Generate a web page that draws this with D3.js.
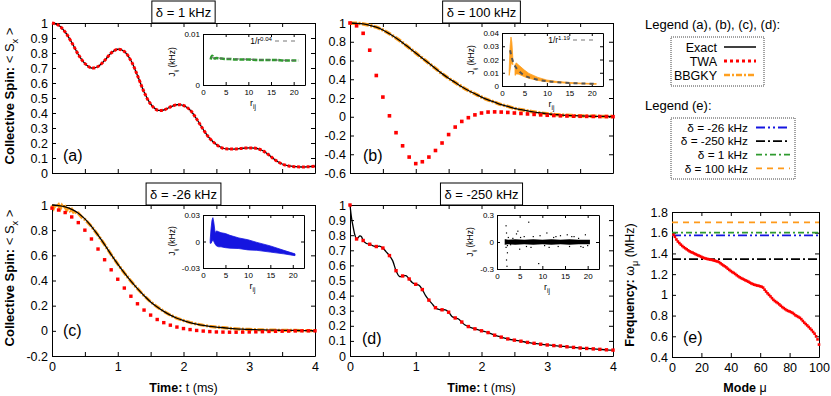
<!DOCTYPE html>
<html>
<head>
<meta charset="utf-8">
<script src="https://d3js.org/d3.v7.min.js"></script>
<style>
body { margin: 0; background: #fff; }
svg { display: block; background: #fff; }
</style>
</head>
<body>
<svg width="831" height="396"></svg>
<script>
// ---------------- data ----------------
var tGrid = [0,0.1,0.2,0.3,0.4,0.5,0.6,0.7,0.8,0.9,1.0,1.1,1.2,1.3,1.4,1.5,1.6,1.7,1.8,1.9,2.0,
             2.1,2.2,2.3,2.4,2.5,2.6,2.7,2.8,2.9,3.0,3.1,3.2,3.3,3.4,3.5,3.6,3.7,3.8,3.9,4.0];

// (a) delta = 1 kHz
var exactA = [1.0,0.985,0.94,0.87,0.79,0.73,0.70,0.71,0.75,0.80,0.825,0.81,0.75,0.65,0.54,0.46,0.42,0.42,0.44,0.455,0.45,
              0.42,0.36,0.29,0.23,0.19,0.165,0.16,0.16,0.165,0.167,0.165,0.15,0.12,0.085,0.06,0.047,0.042,0.04,0.042,0.045];

// (b) delta = 100 kHz
var exactB = [1.0,0.997,0.99,0.975,0.955,0.925,0.885,0.84,0.79,0.735,0.68,0.625,0.57,0.515,0.46,0.41,0.365,0.32,0.28,0.245,0.21,
              0.18,0.155,0.13,0.11,0.09,0.075,0.062,0.05,0.04,0.032,0.025,0.02,0.015,0.012,0.009,0.007,0.005,0.004,0.003,0.002];
var twaB   = [1.0,0.97,0.89,0.71,0.44,0.21,0.01,-0.17,-0.31,-0.43,-0.50,-0.48,-0.43,-0.36,-0.28,-0.19,-0.11,-0.05,-0.01,0.02,0.04,
              0.05,0.052,0.05,0.046,0.04,0.035,0.03,0.025,0.02,0.016,0.013,0.01,0.008,0.006,0.005,0.004,0.003,0.002,0.002,0.001];

// (c) delta = -26 kHz
var exactC = [1.0,0.995,0.985,0.965,0.935,0.89,0.83,0.76,0.685,0.605,0.53,0.46,0.395,0.335,0.28,0.23,0.19,0.155,0.125,0.10,0.082,
              0.066,0.054,0.044,0.036,0.03,0.025,0.02,0.016,0.013,0.011,0.009,0.007,0.006,0.005,0.004,0.003,0.003,0.002,0.002,0.002];
var twaC   = [0.975,0.96,0.94,0.905,0.86,0.80,0.73,0.65,0.565,0.485,0.41,0.34,0.275,0.215,0.165,0.125,0.09,0.065,0.045,0.03,0.018,
              0.01,0.003,-0.002,-0.006,-0.009,-0.01,-0.011,-0.011,-0.01,-0.009,-0.008,-0.007,-0.005,-0.004,-0.003,-0.002,-0.001,0,0,0];
var tBBGKYc = [0,0.025,0.05,0.075,0.1,0.125,0.15,0.175,0.2,0.225,0.25,0.275,0.3,0.325,0.35,0.375,0.4,0.45,0.5,
               0.6,0.7,0.8,0.9,1.0,1.1,1.2,1.3,1.4,1.5,1.6,1.7,1.8,1.9,2.0,2.1,2.2,2.3,2.4,2.5,
               2.6,2.7,2.8,2.9,3.0,3.1,3.2,3.3,3.4,3.5,3.6,3.7,3.8,3.9,4.0];
var bbgkyC = [1.0,0.975,1.005,0.985,1.0,0.97,0.995,0.975,0.985,0.96,0.98,0.955,0.965,0.945,0.955,0.93,0.935,0.905,0.885,
              0.83,0.76,0.685,0.605,0.53,0.46,0.395,0.335,0.28,0.23,0.19,0.155,0.125,0.10,0.082,0.066,0.054,0.044,0.036,0.03,
              0.025,0.02,0.016,0.013,0.011,0.009,0.007,0.006,0.005,0.004,0.003,0.003,0.002,0.002,0.002];

// (d) delta = -250 kHz
var tD = [0,0.025,0.05,0.075,0.1,0.125,0.15,0.175,0.2,0.25,0.3,0.35,0.4,0.45,0.5,0.55,0.6,0.65,0.7,0.75,0.8,0.85,0.9,0.95,
          1.0,1.05,1.1,1.15,1.2,1.25,1.3,1.35,1.4,1.45,1.5,1.55,1.6,1.65,1.7,1.75,1.8,1.9,2.0,2.1,2.2,2.3,2.4,2.5,
          2.6,2.7,2.8,2.9,3.0,3.1,3.2,3.3,3.4,3.5,3.6,3.7,3.8,3.9,4.0];
var exactD = [1.0,0.91,0.85,0.80,0.775,0.785,0.795,0.79,0.765,0.745,0.74,0.73,0.725,0.728,0.715,0.69,0.665,0.63,0.565,0.527,
              0.53,0.532,0.51,0.485,0.475,0.468,0.44,0.40,0.37,0.345,0.32,0.308,0.306,0.305,0.29,0.262,0.252,0.245,0.225,0.205,
              0.195,0.18,0.167,0.155,0.138,0.125,0.113,0.105,0.098,0.09,0.084,0.078,0.073,0.069,0.066,0.061,0.057,0.053,0.05,
              0.047,0.044,0.041,0.039];

// insets: J_ij versus r_ij
var rInA = [1.7,1.9,2.1,2.3,2.6,3,3.5,4,5,6,7,8,10,12,14,16,18,20,21];
var jInA = [0.0050,0.0056,0.0057,0.0054,0.0052,0.0053,0.0052,0.0052,0.0051,0.0051,0.0050,0.0050,0.0050,0.0049,0.0049,0.0049,0.0048,0.0048,0.0048];
var rFitA = [1.8,3,5,8,12,16,21];
var jFitA = [0.0054,0.0053,0.0052,0.0051,0.0050,0.0049,0.0048];

var rInB  = [1.6,1.8,2.0,2.2,2.4,2.6,2.9,3.2,3.6,4,5,6,8,10,12,15,18,21];
var hiInB = [0.012,0.030,0.037,0.033,0.022,null,0.016,0.0175,0.016,0.015,0.012,0.0095,0.0065,0.0045,0.0035,0.0027,0.0021,0.0018];
var loInB = [0.008,0.012,0.016,0.018,0.016,null,0.008,0.009,0.009,0.0085,0.007,0.0058,0.0042,0.0032,0.0026,0.002,0.0016,0.0013];
var rFitB = [1.8,2,2.5,3,4,5,6,8,10,12,15,18,21];
var jFitB = [0.027,0.024,0.018,0.0145,0.0105,0.008,0.0065,0.0047,0.0036,0.003,0.0023,0.0019,0.0016];

var rInC  = [1.6,1.8,2.0,2.2,2.4,2.7,3.0,3.5,4,5,6,8,10,12,15,18,20.5];
var hiInC = [0.002,0.015,0.024,0.027,0.022,0.010,0.012,0.011,0.010,0.009,0.007,0.004,0.002,-0.001,-0.005,-0.010,-0.014];
var loInC = [-0.002,-0.002,0.0,0.002,0.0,-0.003,-0.005,-0.006,-0.006,-0.007,-0.0075,-0.008,-0.0095,-0.010,-0.012,-0.014,-0.016];

var rInD  = [1.7,2.5,4,6,8,10,12,14,16,18,20.5];
var hiInD = [0.03,0.025,0.03,0.025,0.03,0.025,0.03,0.025,0.03,0.025,0.025];
var loInD = [-0.03,-0.025,-0.03,-0.025,-0.03,-0.025,-0.03,-0.025,-0.03,-0.025,-0.025];
var rOutD = [2.0,2.1,2.2,2.1,2.3,2.0,2.5,4.6,4.3,5.0,5.2,7.0,6.5,9.2,8,9.5,11,11.5,12.5,13.5,14,15.5,16,17,18,18.5,19.5,20,3.5,3.0,6.0,10.5,13,7.5,16.5,19,1.9,2.3];
var jOutD = [0.18,0.10,-0.27,-0.20,-0.12,-0.06,0.05,0.12,0.09,-0.08,0.05,0.22,-0.05,-0.24,0.06,0.07,0.10,-0.06,0.05,-0.05,0.07,0.08,-0.05,0.06,0.04,-0.05,0.08,-0.04,0.04,-0.03,0.06,-0.04,0.06,-0.06,0.06,-0.06,0.02,-0.04];

// (e) normal modes
var modeOmega = [1.580,1.560,1.535,1.515,1.500,1.485,1.472,1.460,1.450,1.440,1.430,1.420,1.413,1.408,1.400,1.393,1.386,1.380,1.374,1.367,
                 1.360,1.355,1.350,1.347,1.344,1.341,1.338,1.335,1.330,1.326,1.322,1.316,1.305,1.294,1.284,1.275,1.265,1.252,1.241,1.230,
                 1.220,1.212,1.202,1.190,1.180,1.170,1.162,1.155,1.148,1.140,1.134,1.127,1.118,1.110,1.104,1.098,1.094,1.090,1.087,1.083,
                 1.078,1.070,1.050,1.032,1.015,1.000,0.985,0.968,0.952,0.940,0.930,0.920,0.908,0.895,0.882,0.872,0.862,0.852,0.845,0.840,
                 0.833,0.826,0.815,0.802,0.795,0.787,0.778,0.765,0.748,0.732,0.718,0.705,0.690,0.675,0.660,0.642,0.625,0.600,0.570,0.520];
var detunings = ["δ = -26 kHz", "δ = -250 kHz", "δ = 1 kHz", "δ = 100 kHz"];
var detuneLevels = [1.575, 1.345, 1.600, 1.700];
var detuneColors = ["#1515e0", "#000000", "#2f9a2f", "#ff9a1a"];
var detuneDash = ["9,3,2,3,2,3", "9,3,2,3", "6,3,2,3", "6,5"];

var methodNames = ["Exact", "TWA", "BBGKY"];

// ---------------- drawing ----------------
var FONT = "'Liberation Sans', Arial, Helvetica, sans-serif";
var RED = "#ff0000", ORANGE = "#ffa020";
var svg = d3.select("svg").attr("font-family", FONT);

function fmt(d) { return String(+(+d).toFixed(3)); }

function rich(sel, parts, fs) {
  // parts: [text, flag] with flag b=bold, sub, sup
  var shift = 0;
  parts.forEach(function(p) {
    var ts = sel.append("tspan").text(p[0]);
    var want = p[1] === "sub" ? 0.3 * fs : p[1] === "sup" ? -0.4 * fs : 0;
    if (want !== shift) { ts.attr("dy", want - shift); shift = want; }
    if (p[1] === "b") ts.attr("font-weight", "bold");
    if (p[1] === "sub" || p[1] === "sup") ts.attr("font-size", 0.72 * fs);
  });
  return sel;
}

function axes(box, xd, yd, xt, yt, o) {
  var x = d3.scaleLinear().domain(xd).range([box.x0, box.x1]);
  var y = d3.scaleLinear().domain(yd).range([box.y1, box.y0]);
  var g = svg.append("g");
  if (o.bg) g.append("rect").attr("x", box.x0).attr("y", box.y0)
      .attr("width", box.x1 - box.x0).attr("height", box.y1 - box.y0).attr("fill", "#fff");
  var list = [
    g.append("g").attr("transform", "translate(0," + box.y1 + ")")
      .call(d3.axisBottom(x).tickValues(xt).tickSize(-o.tl).tickSizeOuter(0).tickPadding(o.padX).tickFormat(o.xfmt || "")),
    g.append("g").attr("transform", "translate(0," + box.y0 + ")")
      .call(d3.axisTop(x).tickValues(xt).tickSize(-o.tl).tickSizeOuter(0).tickFormat("")),
    g.append("g").attr("transform", "translate(" + box.x0 + ",0)")
      .call(d3.axisLeft(y).tickValues(yt).tickSize(-o.tl).tickSizeOuter(0).tickPadding(o.padY).tickFormat(o.yfmt || "")),
    g.append("g").attr("transform", "translate(" + box.x1 + ",0)")
      .call(d3.axisRight(y).tickValues(yt).tickSize(-o.tl).tickSizeOuter(0).tickFormat(""))
  ];
  list.forEach(function(a) {
    a.attr("font-size", o.fs).attr("font-family", FONT);
    a.selectAll("path, line").attr("stroke", "#000").attr("stroke-width", 1);
    a.selectAll("text").attr("fill", "#000");
  });
  return { x: x, y: y, g: g };
}

function line(p, xs, ys, curve) {
  return d3.line()
    .defined(function(d, i) { return ys[i] !== null; })
    .x(function(d, i) { return p.x(xs[i]); })
    .y(function(d, i) { return p.y(ys[i]); })
    .curve(curve || d3.curveCatmullRom)(xs);
}

function squares(p, xs, ys, s) {
  svg.append("g").selectAll("rect").data(xs).join("rect")
    .attr("x", function(d, i) { return p.x(xs[i]) - s / 2; })
    .attr("y", function(d, i) { return p.y(ys[i]) - s / 2; })
    .attr("width", s).attr("height", s).attr("fill", RED);
}

function titleBox(cx, y0, y1, label) {
  var g = svg.append("g");
  var r = g.append("rect");
  var t = g.append("text").attr("x", cx).attr("y", (y0 + y1) / 2 + 4.5)
    .attr("text-anchor", "middle").attr("font-size", 13).text(label);
  var w = t.node().getComputedTextLength() + 8;
  r.attr("x", cx - w / 2).attr("y", y0).attr("width", w).attr("height", y1 - y0)
    .attr("fill", "#fff").attr("stroke", "#000");
}

function tag(x, y, s) {
  svg.append("text").attr("x", x).attr("y", y).attr("font-size", 16).text(s);
}

var timeTicks = d3.range(0, 4.01, 0.5);
var intLabel = function(d) { return Number.isInteger(d) ? d : ""; };
var mainOpt = function(xl) { return { tl: 4, fs: 12.5, padX: 6, padY: 4, xfmt: xl ? intLabel : null, yfmt: fmt }; };

var boxA = { x0: 52, x1: 315, y0: 23, y1: 173 };
var boxB = { x0: 350, x1: 613, y0: 23, y1: 173 };
var boxC = { x0: 52, x1: 315, y0: 205, y1: 356 };
var boxD = { x0: 350, x1: 613, y0: 205, y1: 356 };
var boxE = { x0: 672, x1: 819, y0: 212, y1: 357 };

var pA = axes(boxA, [0, 4], [0, 1], timeTicks, d3.range(0, 1.001, 0.1), mainOpt(false));
var pB = axes(boxB, [0, 4], [-0.6, 1], timeTicks, d3.range(-0.6, 1.001, 0.2), mainOpt(false));
var pC = axes(boxC, [0, 4], [-0.2, 1], timeTicks, d3.range(-0.2, 1.001, 0.2), mainOpt(true));
var pD = axes(boxD, [0, 4], [0, 1], timeTicks, d3.range(0, 1.001, 0.1), mainOpt(true));

// panel (a)
svg.append("path").attr("d", line(pA, tGrid, exactA)).attr("fill", "none").attr("stroke", "#000").attr("stroke-width", 1.3);
svg.append("path").attr("d", line(pA, tGrid, exactA)).attr("fill", "none").attr("stroke", RED)
  .attr("stroke-width", 3).attr("stroke-dasharray", "3,1.8");

// panel (b)
svg.append("path").attr("d", line(pB, tGrid, exactB)).attr("fill", "none").attr("stroke", ORANGE)
  .attr("stroke-width", 3.5).attr("stroke-dasharray", "7,1.5,2,1.5");
svg.append("path").attr("d", line(pB, tGrid, exactB)).attr("fill", "none").attr("stroke", "#000").attr("stroke-width", 1.3);
squares(pB, tGrid, twaB, 3.6);

// panel (c)
svg.append("path").attr("d", line(pC, tBBGKYc, bbgkyC, d3.curveLinear)).attr("fill", "none").attr("stroke", ORANGE)
  .attr("stroke-width", 3.2).attr("stroke-dasharray", "7,1.5,2,1.5");
svg.append("path").attr("d", line(pC, tGrid, exactC)).attr("fill", "none").attr("stroke", "#000").attr("stroke-width", 1.3);
squares(pC, tGrid, twaC, 3.4);

// panel (d)
svg.append("path").attr("d", line(pD, tD, exactD)).attr("fill", "none").attr("stroke", "#000").attr("stroke-width", 1.3);
var tDdots = [], vDdots = [];
tD.forEach(function(t, i) { if (Math.abs(t * 10 - Math.round(t * 10)) < 1e-6) { tDdots.push(t); vDdots.push(exactD[i]); } });
squares(pD, tDdots, vDdots, 3.4);

// insets
var inOpt = function(f) { return { tl: 3, fs: 8, padX: 4, padY: 3, xfmt: function(d) { return d; }, yfmt: f, bg: true }; };
var rTicks = [0, 5, 10, 15, 20];

function insetLabels(box, jx, jy) {
  rich(svg.append("text").attr("font-size", 8.5)
    .attr("transform", "translate(" + jx + "," + jy + ") rotate(-90)").attr("text-anchor", "middle"),
    [["J", ""], ["ij", "sub"], [" (kHz)", ""]], 8.5);
  rich(svg.append("text").attr("font-size", 9).attr("x", (box.x0 + box.x1) / 2 - 4).attr("y", box.y1 + 21),
    [["r", ""], ["ij", "sub"]], 9);
}

function fitKey(box, expo) {
  var y = box.y0 + 7;
  rich(svg.append("text").attr("font-size", 8.5).attr("x", box.x1 - 33).attr("y", y + 3).attr("text-anchor", "end"),
    [["1/r", ""], [expo, "sup"]], 8.5);
  svg.append("line").attr("x1", box.x1 - 30).attr("x2", box.x1 - 10).attr("y1", y).attr("y2", y)
    .attr("stroke", "#777").attr("stroke-width", 1).attr("stroke-dasharray", "4,4");
}

var ibA = { x0: 203, x1: 305, y0: 34, y1: 85 };
var iA = axes(ibA, [0, 22.5], [0, 0.01], rTicks, [0, 0.01], inOpt(fmt));
svg.append("path").attr("d", line(iA, rInA, jInA)).attr("fill", "none").attr("stroke", "#2f9a2f")
  .attr("stroke-width", 2.6).attr("stroke-dasharray", "5,1.5");
svg.append("path").attr("d", line(iA, rFitA, jFitA)).attr("fill", "none").attr("stroke", "#666")
  .attr("stroke-width", 1).attr("stroke-dasharray", "4,4");
fitKey(ibA, "0.04");
insetLabels(ibA, 175, 62);

var ibB = { x0: 502, x1: 603, y0: 33, y1: 86 };
var iB = axes(ibB, [0, 22.5], [0, 0.04], rTicks, [0, 0.01, 0.02, 0.03, 0.04], inOpt(fmt));
svg.append("path").attr("fill", ORANGE).attr("stroke", ORANGE).attr("stroke-width", 0.8)
  .attr("d", d3.area().defined(function(d, i) { return hiInB[i] !== null; })
    .x(function(d, i) { return iB.x(rInB[i]); })
    .y0(function(d, i) { return iB.y(loInB[i]); })
    .y1(function(d, i) { return iB.y(hiInB[i]); })(rInB));
svg.append("path").attr("d", line(iB, rFitB, jFitB)).attr("fill", "none").attr("stroke", "#555")
  .attr("stroke-width", 2).attr("stroke-dasharray", "4,4");
fitKey(ibB, "1.19");
insetLabels(ibB, 474, 60);

var ibC = { x0: 203, x1: 304, y0: 215, y1: 268 };
var iC = axes(ibC, [0, 22.5], [-0.03, 0.03], rTicks, [-0.03, 0, 0.03], inOpt(fmt));
svg.append("path").attr("fill", "#1515e0").attr("stroke", "#1515e0").attr("stroke-width", 0.8)
  .attr("d", d3.area()
    .x(function(d, i) { return iC.x(rInC[i]); })
    .y0(function(d, i) { return iC.y(loInC[i]); })
    .y1(function(d, i) { return iC.y(hiInC[i]); })(rInC));
insetLabels(ibC, 175, 241);

var ibD = { x0: 497, x1: 599, y0: 215, y1: 269 };
var iD = axes(ibD, [0, 22.5], [-0.3, 0.3], rTicks, [-0.3, 0, 0.3], inOpt(fmt));
svg.append("path").attr("fill", "#000")
  .attr("d", d3.area()
    .x(function(d, i) { return iD.x(rInD[i]); })
    .y0(function(d, i) { return iD.y(loInD[i]); })
    .y1(function(d, i) { return iD.y(hiInD[i]); })(rInD));
svg.append("g").selectAll("rect").data(rOutD).join("rect")
  .attr("x", function(d, i) { return iD.x(rOutD[i]) - 0.6; })
  .attr("y", function(d, i) { return iD.y(jOutD[i]) - 0.6; })
  .attr("width", 1.2).attr("height", 1.2).attr("fill", "#000");
insetLabels(ibD, 473, 242);

// panel (e)
var pE = axes(boxE, [0, 100], [0.4, 1.8], d3.range(0, 101, 20), d3.range(0.4, 1.801, 0.2),
  { tl: 4, fs: 12.5, padX: 6, padY: 4, xfmt: function(d) { return d; }, yfmt: fmt });
detuneLevels.forEach(function(v, i) {
  svg.append("line").attr("x1", pE.x(0)).attr("x2", pE.x(100)).attr("y1", pE.y(v)).attr("y2", pE.y(v))
    .attr("stroke", detuneColors[i]).attr("stroke-width", 1.8).attr("stroke-dasharray", detuneDash[i]);
});
squares(pE, d3.range(1, 101), modeOmega, 2.6);

// titles and tags
titleBox(183.5, 1, 23, "δ = 1 kHz");
titleBox(481.5, 1, 23, "δ = 100 kHz");
titleBox(183.5, 183, 205, "δ = -26 kHz");
titleBox(481.5, 183, 205, "δ = -250 kHz");
tag(63, 161, "(a)");
tag(363, 161, "(b)");
tag(63, 336, "(c)");
tag(362, 344, "(d)");
tag(683, 343, "(e)");

// axis titles
[96, 278].forEach(function(cy) {
  rich(svg.append("text").attr("font-size", 13).attr("text-anchor", "middle")
    .attr("transform", "translate(14," + cy + ") rotate(-90)"),
    [["Collective Spin:", "b"], [" < S", ""], ["x", "sub"], [" >", ""]], 13);
});
[183.5, 481.5].forEach(function(cx) {
  rich(svg.append("text").attr("font-size", 12.5).attr("text-anchor", "middle").attr("x", cx).attr("y", 392),
    [["Time:", "b"], ["  t (ms)", ""]], 12.5);
});
rich(svg.append("text").attr("font-size", 12.5).attr("text-anchor", "middle")
  .attr("transform", "translate(634,285) rotate(-90)"),
  [["Frequency:", "b"], [" ω", ""], ["μ", "sub"], [" (MHz)", ""]], 12.5);
rich(svg.append("text").attr("font-size", 12.5).attr("text-anchor", "middle").attr("x", 745).attr("y", 392),
  [["Mode", "b"], [" μ", ""]], 12.5);

// legends
svg.append("text").attr("x", 645).attr("y", 29).attr("font-size", 13).text("Legend (a), (b), (c), (d):");
svg.append("rect").attr("x", 671).attr("y", 37).attr("width", 93).attr("height", 49)
  .attr("fill", "none").attr("stroke", "#444").attr("stroke-dasharray", "1,1");
var methodStyle = [
  { c: "#000", w: 1.5, d: null },
  { c: RED, w: 3, d: "3,3" },
  { c: ORANGE, w: 2.6, d: "6,2,2,2" }
];
methodNames.forEach(function(n, i) {
  var y = 47 + i * 14;
  svg.append("text").attr("x", 717).attr("y", y + 4.5).attr("text-anchor", "end").attr("font-size", 12.5).text(n);
  svg.append("line").attr("x1", 724).attr("x2", 756).attr("y1", y).attr("y2", y)
    .attr("stroke", methodStyle[i].c).attr("stroke-width", methodStyle[i].w).attr("stroke-dasharray", methodStyle[i].d);
});

svg.append("text").attr("x", 645).attr("y", 110).attr("font-size", 13).text("Legend (e):");
svg.append("rect").attr("x", 671).attr("y", 118).attr("width", 124).attr("height", 61)
  .attr("fill", "none").attr("stroke", "#444").attr("stroke-dasharray", "1,1");
detunings.forEach(function(n, i) {
  var y = 127.5 + i * 13.6;
  svg.append("text").attr("x", 748).attr("y", y + 4.2).attr("text-anchor", "end").attr("font-size", 11.8).text(n);
  svg.append("line").attr("x1", 756).attr("x2", 790).attr("y1", y).attr("y2", y)
    .attr("stroke", detuneColors[i]).attr("stroke-width", 1.8).attr("stroke-dasharray", detuneDash[i]);
});
</script>
</body>
</html>
